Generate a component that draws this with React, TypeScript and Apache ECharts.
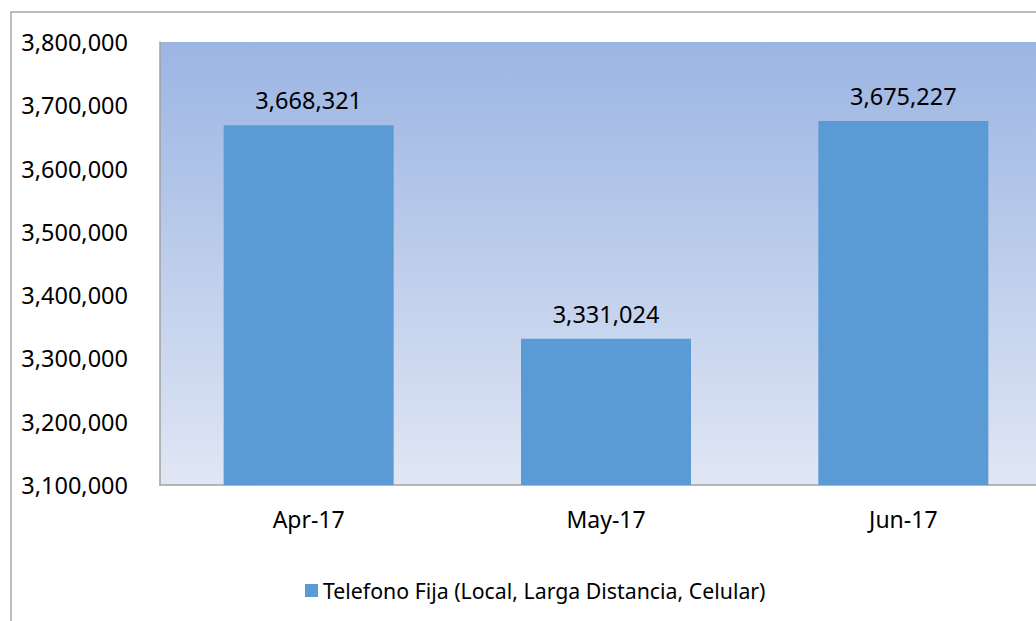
import React, { useEffect, useRef } from "react";
import * as echarts from "echarts";

const categories = ["Apr-17", "May-17", "Jun-17"];
const values = [3668321, 3331024, 3675227];
const seriesName = "Telefono Fija (Local, Larga Distancia, Celular)";
const yMin = 3100000;
const yMax = 3800000;
const yInterval = 100000;

const FONT = "'Noto Sans', sans-serif";

function fmt(v: number) {
  return v.toLocaleString("en-US");
}

export default function App() {
  const ref = useRef<HTMLDivElement>(null);
  useEffect(() => {
    if (!ref.current) return;
    const chart = echarts.init(ref.current, undefined, { renderer: "svg" });
    chart.setOption({
      animation: false,
      backgroundColor: "#ffffff",
      textStyle: { fontFamily: FONT },
      graphic: [
        {
          type: "rect",
          shape: { x: 11, y: 12, width: 1100, height: 700 },
          style: { fill: "none", stroke: "#a6a6a6", lineWidth: 1.5 },
          silent: true,
          z: -10,
        },
      ],
      grid: {
        left: 160,
        top: 42,
        right: 0,
        height: 443,
        show: true,
        borderWidth: 0,
        backgroundColor: new echarts.graphic.LinearGradient(0, 0, 0, 1, [
          { offset: 0, color: "#9bb5e3" },
          { offset: 1, color: "#e0e6f4" },
        ]),
      },
      legend: {
        data: [seriesName],
        left: 300,
        top: 575,
        icon: "rect",
        itemWidth: 13,
        itemHeight: 13,
        itemGap: 6,
        textStyle: { fontFamily: FONT, fontSize: 21.3, color: "#000" },
      },
      xAxis: {
        type: "category",
        data: categories,
        axisLine: { show: true, lineStyle: { color: "#a0a0a0", width: 1.5 } },
        axisTick: { show: false },
        axisLabel: { color: "#000", fontSize: 23, fontFamily: FONT, margin: 22 },
        splitLine: { show: false },
      },
      yAxis: {
        type: "value",
        min: yMin,
        max: yMax,
        interval: yInterval,
        axisLine: { show: true, lineStyle: { color: "#a0a0a0", width: 1.5 } },
        axisTick: { show: false },
        splitLine: { show: false },
        axisLabel: {
          color: "#000",
          fontSize: 23.5,
          fontFamily: FONT,
          margin: 32,
          formatter: (v: number) => fmt(v),
        },
      },
      series: [
        {
          name: seriesName,
          type: "bar",
          data: values,
          barWidth: 170,
          itemStyle: { color: "#5b9bd5" },
          label: {
            show: true,
            position: "top",
            distance: 13,
            color: "#000",
            fontSize: 23.5,
            fontFamily: FONT,
            formatter: (p: any) => fmt(p.value),
          },
        },
      ],
    });
    return () => chart.dispose();
  }, []);
  return (
    <div
      style={{
        position: "absolute",
        left: 0,
        top: 0,
        width: 1036,
        height: 621,
        overflow: "hidden",
      }}
    >
      <div ref={ref} style={{ width: 1052, height: 621 }} />
    </div>
  );
}
